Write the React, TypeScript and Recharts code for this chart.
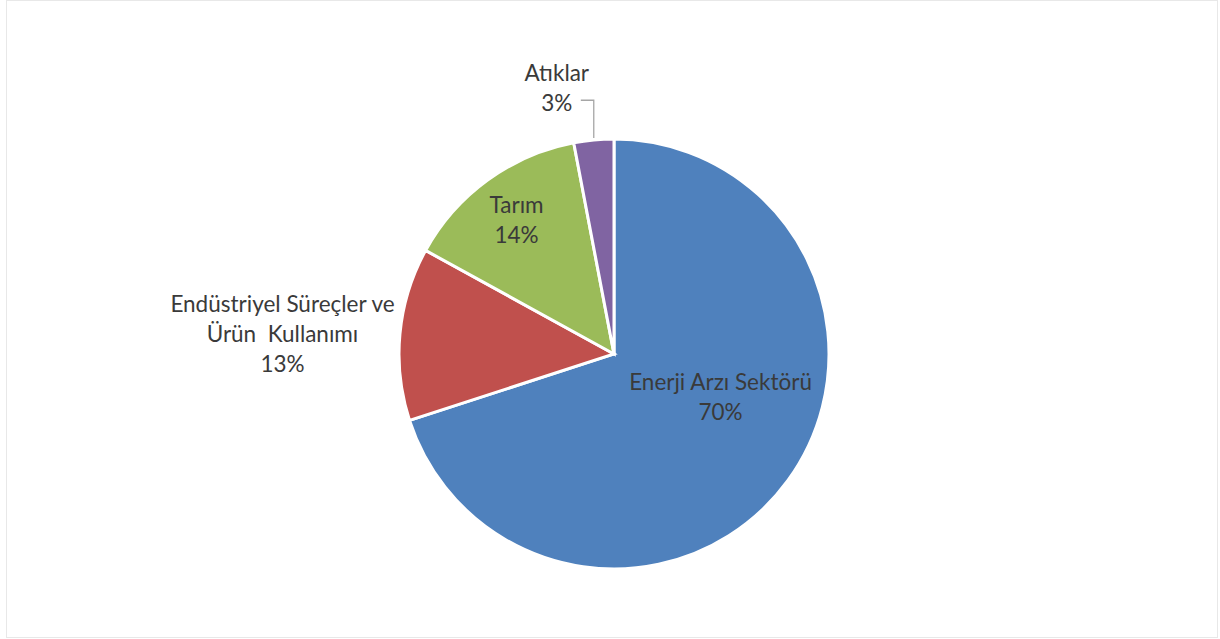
import React from "react";
import { PieChart, Pie, Cell } from "recharts";

const categories = ["Enerji Arzı Sektörü", "Endüstriyel Süreçler ve Ürün  Kullanımı", "Tarım", "Atıklar"];
const values = [70, 13, 14, 3];
const labelLines: string[][] = [
  ["Enerji Arzı Sektörü"],
  ["Endüstriyel Süreçler ve", "Ürün  Kullanımı"],
  ["Tarım"],
  ["Atıklar"],
];
const colors = ["#4F81BD", "#C0504D", "#9BBB59", "#8064A2"];
// label anchor in polar coordinates (fraction of outer radius, angle in degrees)
const labelPolar = [
  { r: 0.533, a: -21.6 },
  { r: 1.545, a: 176.4 },
  { r: 0.773, a: 125.9 },
  { r: 1.269, a: 102.1 },
];
const leader = [false, false, false, true];

const data = categories.map((name, i) => ({ name, value: values[i], idx: i }));
const total = values.reduce((a, b) => a + b, 0);

const FONT = "Lato, 'Open Sans', sans-serif";
const LINE_H = 30;

const renderLabel = (props: any) => {
  const { cx, cy, outerRadius, midAngle, index } = props;
  const RAD = Math.PI / 180;
  const lp = labelPolar[index];
  const x = cx + outerRadius * lp.r * Math.cos(lp.a * RAD);
  const y = cy - outerRadius * lp.r * Math.sin(lp.a * RAD);
  const lines = [...labelLines[index], `${Math.round((values[index] / total) * 100)}%`];
  const n = lines.length;
  const firstY = y - ((n - 1) * LINE_H) / 2;
  let line: React.ReactNode = null;
  if (leader[index]) {
    const px = cx + outerRadius * Math.cos(midAngle * RAD);
    const py = cy - outerRadius * Math.sin(midAngle * RAD);
    const ly = firstY + (n - 1) * LINE_H - 2;
    line = (
      <polyline
        points={`${px},${py - 2} ${px},${ly} ${x + 24},${ly}`}
        fill="none"
        stroke="#a6a6a6"
        strokeWidth={1.3}
      />
    );
  }
  return (
    <g key={`lbl-${index}`}>
      {line}
      {lines.map((t, k) => (
        <text
          key={k}
          x={x}
          y={firstY + k * LINE_H}
          textAnchor="middle"
          dominantBaseline="central"
          fill="#3a3a3a"
          fontFamily={FONT}
          fontSize={22.5}
          style={{ whiteSpace: "pre" }}
        >
          {t}
        </text>
      ))}
    </g>
  );
};

export default function App() {
  return (
    <div style={{ position: "absolute", left: 0, top: 0, width: 1220, height: 639, background: "#fff" }}>
      <div
        style={{
          position: "absolute",
          left: 6,
          top: 0,
          width: 1210,
          height: 636,
          border: "1px solid #e8e8e8",
        }}
      />
      <div style={{ position: "absolute", left: 0, top: 0 }}>
        <PieChart width={1220} height={639} margin={{ top: 0, right: 0, bottom: 0, left: 0 }}>
          <Pie
            data={data}
            dataKey="value"
            nameKey="name"
            cx={614}
            cy={354}
            outerRadius={215}
            startAngle={90}
            endAngle={-270}
            stroke="#ffffff"
            strokeWidth={3}
            label={renderLabel}
            labelLine={false}
            isAnimationActive={false}
          >
            {data.map((d, i) => (
              <Cell key={d.name} fill={colors[i]} />
            ))}
          </Pie>
        </PieChart>
      </div>
    </div>
  );
}
